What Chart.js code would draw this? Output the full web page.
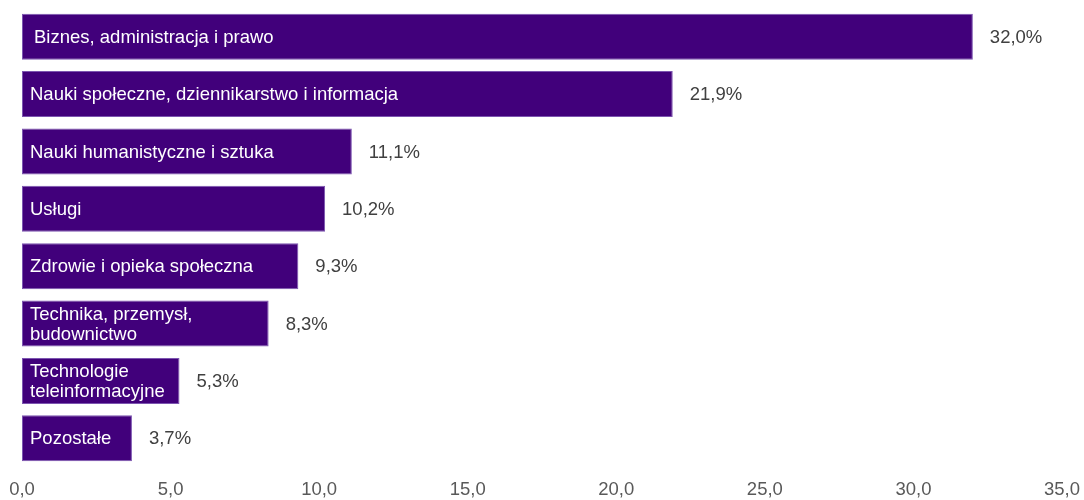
<!DOCTYPE html>
<html>
<head>
<meta charset="utf-8">
<script src="https://cdn.jsdelivr.net/npm/chart.js@4"></script>
<style>
html,body{margin:0;padding:0;background:#fff;}
#wrap{width:1084px;height:500px;position:relative;}
</style>
</head>
<body>
<div id="wrap"><canvas id="c"></canvas></div>
<script>
const categories = [
  ["Biznes, administracja i prawo"],
  ["Nauki społeczne, dziennikarstwo i informacja"],
  ["Nauki humanistyczne i sztuka"],
  ["Usługi"],
  ["Zdrowie i opieka społeczna"],
  ["Technika, przemysł,", "budownictwo"],
  ["Technologie", "teleinformacyjne"],
  ["Pozostałe"]
];
const values = [32.0, 21.9, 11.1, 10.2, 9.3, 8.3, 5.3, 3.7];
const axisMin = 0;
const axisMax = 35;
const axisStep = 5;

const FONT = '"Liberation Sans", Arial, sans-serif';
const fmt = (v, d) => v.toFixed(d).replace('.', ',');

const labelPlugin = {
  id: 'barLabels',
  afterDatasetsDraw(chart) {
    const ctx = chart.ctx;
    const meta = chart.getDatasetMeta(0);
    const xs = chart.scales.x;
    ctx.save();
    ctx.font = '18.5px ' + FONT;
    ctx.textBaseline = 'middle';
    meta.data.forEach((bar, i) => {
      const lines = categories[i];
      const lh = 20;
      const x0 = xs.getPixelForValue(0);
      ctx.fillStyle = '#ffffff';
      ctx.textAlign = 'left';
      const startY = bar.y - (lines.length - 1) * lh / 2;
      lines.forEach((ln, j) => {
        ctx.fillText(ln, x0 + (i === 0 ? 12 : 8), startY + j * lh + 1);
      });
      ctx.fillStyle = '#404040';
      ctx.fillText(fmt(values[i], 1) + '%', bar.x + 17, bar.y + 1);
    });
    ctx.restore();
  }
};

new Chart(document.getElementById('c'), {
  type: 'bar',
  data: {
    labels: categories,
    datasets: [{
      data: values,
      backgroundColor: '#41007B',
      borderColor: '#7C55B0',
      borderWidth: 1,
      borderSkipped: false,
      barPercentage: 0.8,
      categoryPercentage: 1.0
    }]
  },
  options: {
    indexAxis: 'y',
    responsive: true,
    maintainAspectRatio: false,
    animation: false,
    layout: { padding: { left: 22, right: 22, top: 8, bottom: 0 } },
    plugins: { legend: { display: false }, tooltip: { enabled: false } },
    scales: {
      y: { display: false },
      x: {
        min: axisMin, max: axisMax,
        grid: { display: false, drawTicks: false },
        border: { display: false },
        afterFit: (s) => { s.height = 33; s.paddingLeft = 0; s.paddingRight = 0; },
        ticks: {
          stepSize: axisStep,
          color: '#595959',
          padding: 12,
          font: { family: FONT, size: 18.5 },
          callback: (v) => fmt(v, 1)
        }
      }
    }
  },
  plugins: [labelPlugin]
});
</script>
</body>
</html>
